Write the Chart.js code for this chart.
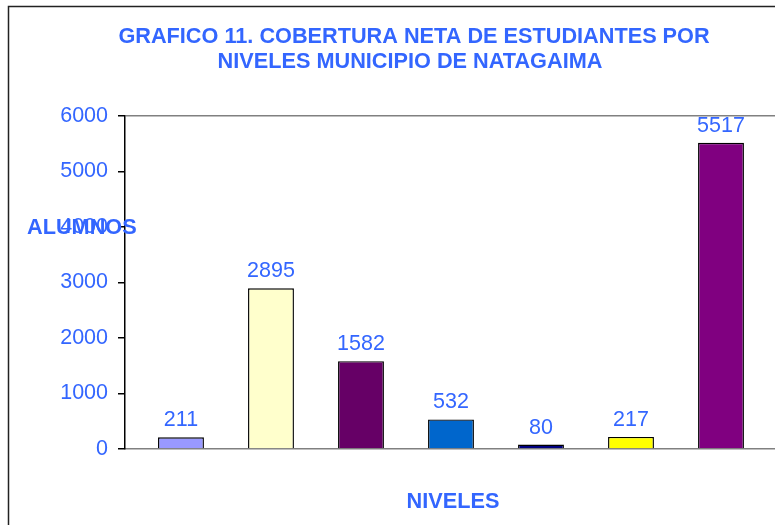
<!DOCTYPE html>
<html>
<head>
<meta charset="utf-8">
<script src="https://cdn.jsdelivr.net/npm/chart.js@4"></script>
<style>
  body { margin: 0; background: #fff; }
  canvas { display: block; }
</style>
</head>
<body>
<canvas id="grafico" width="775" height="525"></canvas>
<script>
// Datos del grafico
const niveles = ['Nivel 1', 'Nivel 2', 'Nivel 3', 'Nivel 4', 'Nivel 5', 'Nivel 6', 'Total'];
const alumnos = [211, 2895, 1582, 532, 80, 217, 5517];
const coloresBarras = ['#9999FF', '#FFFFCC', '#660066', '#0066CC', '#000080', '#FFFF00', '#800080'];
const ticksY = [0, 1000, 2000, 3000, 4000, 5000, 6000];
const titulo = ['GRAFICO 11. COBERTURA NETA DE ESTUDIANTES POR', 'NIVELES MUNICIPIO DE NATAGAIMA'];

const azul = '#3366FF';
const fuente = '"Liberation Sans", Arial, sans-serif';

// Textos, borde exterior y etiquetas de valores
const decoracion = {
    id: 'decoracion',
    beforeDraw(chart) {
        const ctx = chart.ctx;
        ctx.save();
        ctx.strokeStyle = '#222';
        ctx.lineWidth = 1.5;
        ctx.strokeRect(8.5, 6.5, 900, 700);
        ctx.restore();
    },
    afterDatasetsDraw(chart) {
        const ctx = chart.ctx;
        ctx.save();
        ctx.fillStyle = azul;
        ctx.textAlign = 'center';
        ctx.textBaseline = 'middle';
        ctx.font = 'bold 21.7px ' + fuente;
        ctx.fillText(titulo[0], 414, 37);
        ctx.fillText(titulo[1], 410, 62);
        ctx.fillText('NIVELES', 453, 502);
        ctx.textAlign = 'left';
        ctx.fillText('ALUMNOS', 27, 228);

        // etiquetas sobre cada barra
        ctx.font = '21.5px ' + fuente;
        ctx.textAlign = 'center';
        ctx.textBaseline = 'alphabetic';
        chart.getDatasetMeta(0).data.forEach((bar, i) => {
            ctx.fillText(String(alumnos[i]), bar.x, bar.y - 11);
        });
        ctx.restore();
    }
};

const ctx = document.getElementById('grafico').getContext('2d');
new Chart(ctx, {
    type: 'bar',
    data: {
        labels: niveles,
        datasets: [{
            label: 'Alumnos',
            data: alumnos.map((v, i) => ({ x: i, y: v })),
            backgroundColor: coloresBarras,
            borderColor: '#000',
            borderWidth: 1.4,
            barPercentage: 0.51,
            categoryPercentage: 1
        }]
    },
    options: {
        responsive: false,
        animation: false,
        layout: { padding: { top: 116, left: 0, right: 0, bottom: 0 } },
        plugins: {
            legend: { display: false },
            title: { display: false },
            tooltip: { enabled: false }
        },
        scales: {
            x: {
                type: 'linear',
                offset: false,
                min: -0.622,
                max: 6.6,
                afterBuildTicks: (s) => { s.ticks = niveles.map((n, i) => ({ value: i })); },
                ticks: { display: false },
                grid: { display: false, offset: false },
                border: { color: '#808080', width: 1.5 },
                afterFit: (s) => { s.height = 76; }
            },
            y: {
                min: 0,
                max: 6000,
                afterBuildTicks: (s) => { s.ticks = ticksY.map(v => ({ value: v })); },
                ticks: {
                    color: azul,
                    font: { family: fuente, size: 21.5 },
                    padding: 10,
                    callback: (v) => String(v)
                },
                grid: {
                    color: (c) => c.tick && c.tick.value === 6000 ? '#808080' : 'rgba(0,0,0,0)',
                    lineWidth: 1.5,
                    tickColor: '#000',
                    tickLength: 7
                },
                border: { color: '#000', width: 1.5 },
                afterFit: (s) => { s.width = 125; }
            }
        }
    },
    plugins: [decoracion]
});
</script>
</body>
</html>
